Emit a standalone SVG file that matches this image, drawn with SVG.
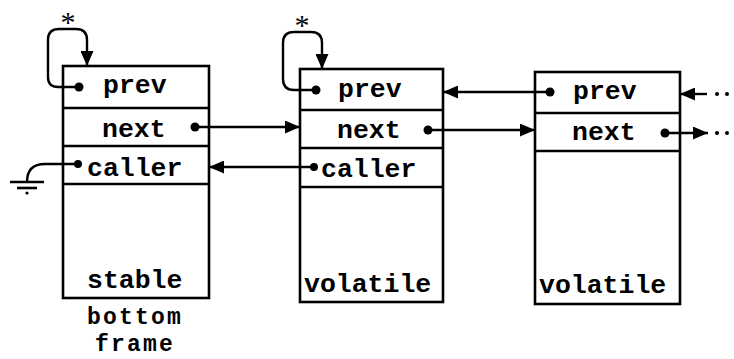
<svg xmlns="http://www.w3.org/2000/svg" width="734" height="359" viewBox="0 0 734 359">
<style>
.box{fill:#fff;stroke:#000;stroke-width:2.6}
.div{stroke:#000;stroke-width:2.6}
.t{font-family:"Liberation Mono","DejaVu Sans Mono",monospace;font-weight:bold;font-size:26.5px;fill:#000}
.s{font-size:23px;letter-spacing:2.2px}
.c{fill:none;stroke:#000;stroke-width:2.4}
.dot{fill:#000}
.star{font-family:"Liberation Serif",serif;font-size:30px;fill:#000}
</style>
<defs>
<marker id="ah" markerUnits="userSpaceOnUse" markerWidth="17" markerHeight="13" refX="15" refY="6.5" orient="auto">
<path d="M0,0 L15,6.5 L0,13 Z" fill="#000"/>
</marker>
</defs>
<g id="frame1">
<rect class="box" x="63" y="66" width="146" height="232"/>
<line class="div" x1="63" y1="108" x2="209" y2="108"/>
<line class="div" x1="63" y1="146" x2="209" y2="146"/>
<line class="div" x1="63" y1="184" x2="209" y2="184"/>
<text class="t" x="103" y="93">prev</text>
<text class="t" x="102" y="137">next</text>
<text class="t" x="87" y="176">caller</text>
<text class="t" x="87" y="288">stable</text>
<text class="t s" x="87" y="324">bottom</text>
<text class="t s" x="95" y="351">frame</text>
<circle class="dot" cx="79" cy="87" r="4.5"/>
<circle class="dot" cx="195" cy="127" r="4.5"/>
<circle class="dot" cx="78" cy="164" r="4"/>
</g>
<g id="frame2">
<rect class="box" x="300" y="69" width="143" height="233"/>
<line class="div" x1="300" y1="110" x2="443" y2="110"/>
<line class="div" x1="300" y1="148" x2="443" y2="148"/>
<line class="div" x1="300" y1="187" x2="443" y2="187"/>
<text class="t" x="338" y="97">prev</text>
<text class="t" x="337" y="138">next</text>
<text class="t" x="321" y="177">caller</text>
<text class="t" x="304" y="292">volatile</text>
<circle class="dot" cx="316" cy="90" r="4.5"/>
<circle class="dot" cx="428" cy="130" r="4.5"/>
<circle class="dot" cx="314" cy="167" r="4"/>
</g>
<g id="frame3">
<rect class="box" x="535" y="72" width="145" height="232"/>
<line class="div" x1="535" y1="113" x2="680" y2="113"/>
<line class="div" x1="535" y1="151" x2="680" y2="151"/>
<text class="t" x="573" y="99">prev</text>
<text class="t" x="572" y="140">next</text>
<text class="t" x="539" y="293">volatile</text>
<circle class="dot" cx="550" cy="92" r="4.5"/>
<circle class="dot" cx="665" cy="133" r="4.5"/>
</g>
<g id="ground">
<line class="div" x1="10" y1="182" x2="44" y2="182"/>
<line class="div" x1="17" y1="188" x2="37" y2="188"/>
<circle class="dot" cx="27" cy="193" r="1.6"/>
</g>
<g id="connectors">
<path class="c" d="M79,87 H58 Q48,87 48,77 V40 Q48,29 59,29 H76 Q87,29 87,40 V66" marker-end="url(#ah)"/>
<text class="star" x="68" y="32" text-anchor="middle">*</text>
<path class="c" d="M316,90 H294 Q283,90 283,79 V43 Q283,32 294,32 H311 Q322,32 322,43 V69" marker-end="url(#ah)"/>
<text class="star" x="302" y="35" text-anchor="middle">*</text>
<path class="c" d="M195,127 H300" marker-end="url(#ah)"/>
<path class="c" d="M314,167 H209" marker-end="url(#ah)"/>
<path class="c" d="M78,164 H45 Q27,164 27,182"/>
<path class="c" d="M550,92 H443" marker-end="url(#ah)"/>
<path class="c" d="M428,130 H535" marker-end="url(#ah)"/>
<path class="c" d="M707,94 H680" marker-end="url(#ah)"/>
<path class="c" d="M665,133 H708" marker-end="url(#ah)"/>
<circle class="dot" cx="717" cy="94" r="2"/>
<circle class="dot" cx="727" cy="94" r="2"/>
<circle class="dot" cx="717" cy="133" r="2"/>
<circle class="dot" cx="727" cy="133" r="2"/>
</g>
</svg>
